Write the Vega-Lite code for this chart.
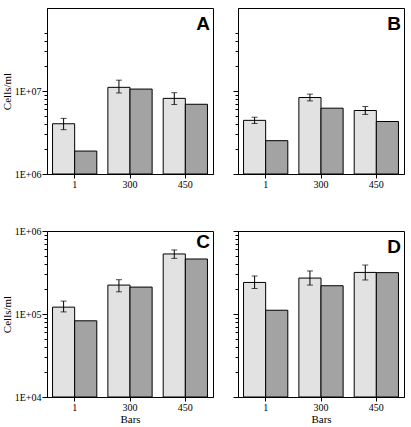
{
  "$schema": "https://vega.github.io/schema/vega-lite/v6.json",
  "padding": {"left": 0, "top": 7, "right": 5, "bottom": 5},
  "background": "white",
  "data": {"values": [
    {"panel": "A", "bars": "1", "type": "dotted", "value": 4030000, "lo": 3420000, "hi": 4680000},
    {"panel": "A", "bars": "1", "type": "solid", "value": 1890000},
    {"panel": "A", "bars": "300", "type": "dotted", "value": 11070000, "lo": 9470000, "hi": 13500000},
    {"panel": "A", "bars": "300", "type": "solid", "value": 10550000},
    {"panel": "A", "bars": "450", "type": "dotted", "value": 8150000, "lo": 6870000, "hi": 9540000},
    {"panel": "A", "bars": "450", "type": "solid", "value": 6920000},
    {"panel": "B", "bars": "1", "type": "dotted", "value": 4430000, "lo": 4060000, "hi": 4830000},
    {"panel": "B", "bars": "1", "type": "solid", "value": 2520000},
    {"panel": "B", "bars": "300", "type": "dotted", "value": 8350000, "lo": 7600000, "hi": 9170000},
    {"panel": "B", "bars": "300", "type": "solid", "value": 6210000},
    {"panel": "B", "bars": "450", "type": "dotted", "value": 5820000, "lo": 5220000, "hi": 6500000},
    {"panel": "B", "bars": "450", "type": "solid", "value": 4290000},
    {"panel": "C", "bars": "1", "type": "dotted", "value": 121000, "lo": 106000, "hi": 143000},
    {"panel": "C", "bars": "1", "type": "solid", "value": 82800},
    {"panel": "C", "bars": "300", "type": "dotted", "value": 223000, "lo": 185000, "hi": 259000},
    {"panel": "C", "bars": "300", "type": "solid", "value": 211000},
    {"panel": "C", "bars": "450", "type": "dotted", "value": 529000, "lo": 468000, "hi": 591000},
    {"panel": "C", "bars": "450", "type": "solid", "value": 460000},
    {"panel": "D", "bars": "1", "type": "dotted", "value": 240000, "lo": 203000, "hi": 287000},
    {"panel": "D", "bars": "1", "type": "solid", "value": 111000},
    {"panel": "D", "bars": "300", "type": "dotted", "value": 271000, "lo": 223000, "hi": 330000},
    {"panel": "D", "bars": "300", "type": "solid", "value": 219000},
    {"panel": "D", "bars": "450", "type": "dotted", "value": 317000, "lo": 257000, "hi": 389000},
    {"panel": "D", "bars": "450", "type": "solid", "value": 315000}
  ]},
  "spacing": 35,
  "vconcat": [
    {
      "spacing": 18,
      "hconcat": [
        {
          "width": 166, "height": 166,
          "title": {"text": "A", "frame": "group", "anchor": "end", "orient": "top", "offset": -26, "dx": -3},
          "transform": [{"filter": "datum.panel === 'A'"}],
          "encoding": {
            "x": {"field": "bars", "type": "nominal", "sort": ["1", "300", "450"], "scale": {"paddingInner": 0.2, "paddingOuter": 0.1}, "axis": {"title": null, "labelAngle": 0, "tickSize": 4, "labelPadding": 1}},
            "xOffset": {"field": "type", "type": "nominal", "scale": {"paddingInner": 0, "paddingOuter": 0}}
          },
          "layer": [
            {"mark": {"type": "bar", "stroke": "black", "strokeWidth": 1}, "encoding": {
              "y": {"field": "value", "type": "quantitative", "stack": null, "title": "Cells/ml", "scale": {"type": "log", "domain": [1000000, 50000000]}, "axis": {"values": [1000000, 2000000, 3000000, 4000000, 5000000, 6000000, 7000000, 8000000, 9000000, 10000000, 20000000, 30000000, 40000000, 50000000], "labelExpr": "abs(log(datum.value)/LN10 - round(log(datum.value)/LN10)) < 0.001 ? '1E+0' + round(log(datum.value)/LN10) : ''", "tickSize": {"condition": {"test": "abs(log(datum.value)/LN10 - round(log(datum.value)/LN10)) < 0.001", "value": 5}, "value": 3}, "labelOverlap": false}},
              "y2": {"datum": 1000000},
              "fill": {"field": "type", "type": "nominal", "scale": {"domain": ["dotted", "solid"], "range": ["#e2e2e2", "#a3a3a3"]}, "legend": null}}},
            {"transform": [{"filter": "isValid(datum.lo)"}], "mark": {"type": "rule", "color": "black", "strokeWidth": 1}, "encoding": {"y": {"field": "lo", "type": "quantitative", "title": "Cells/ml"}, "y2": {"field": "hi"}}},
            {"transform": [{"filter": "isValid(datum.lo)"}], "mark": {"type": "tick", "color": "black", "size": 6, "thickness": 1}, "encoding": {"y": {"field": "lo", "type": "quantitative", "title": "Cells/ml"}}},
            {"transform": [{"filter": "isValid(datum.hi)"}], "mark": {"type": "tick", "color": "black", "size": 6, "thickness": 1}, "encoding": {"y": {"field": "hi", "type": "quantitative", "title": "Cells/ml"}}}
          ]
        },
        {
          "width": 166, "height": 166,
          "title": {"text": "B", "frame": "group", "anchor": "end", "orient": "top", "offset": -26, "dx": -3},
          "transform": [{"filter": "datum.panel === 'B'"}],
          "encoding": {
            "x": {"field": "bars", "type": "nominal", "sort": ["1", "300", "450"], "scale": {"paddingInner": 0.2, "paddingOuter": 0.1}, "axis": {"title": null, "labelAngle": 0, "tickSize": 4, "labelPadding": 1}},
            "xOffset": {"field": "type", "type": "nominal", "scale": {"paddingInner": 0, "paddingOuter": 0}}
          },
          "layer": [
            {"mark": {"type": "bar", "stroke": "black", "strokeWidth": 1}, "encoding": {
              "y": {"field": "value", "type": "quantitative", "stack": null, "title": null, "scale": {"type": "log", "domain": [1000000, 50000000]}, "axis": {"values": [1000000, 2000000, 3000000, 4000000, 5000000, 6000000, 7000000, 8000000, 9000000, 10000000, 20000000, 30000000, 40000000, 50000000], "labels": false, "tickSize": {"condition": {"test": "abs(log(datum.value)/LN10 - round(log(datum.value)/LN10)) < 0.001", "value": 5}, "value": 3}}},
              "y2": {"datum": 1000000},
              "fill": {"field": "type", "type": "nominal", "scale": {"domain": ["dotted", "solid"], "range": ["#e2e2e2", "#a3a3a3"]}, "legend": null}}},
            {"transform": [{"filter": "isValid(datum.lo)"}], "mark": {"type": "rule", "color": "black", "strokeWidth": 1}, "encoding": {"y": {"field": "lo", "type": "quantitative", "title": null}, "y2": {"field": "hi"}}},
            {"transform": [{"filter": "isValid(datum.lo)"}], "mark": {"type": "tick", "color": "black", "size": 6, "thickness": 1}, "encoding": {"y": {"field": "lo", "type": "quantitative", "title": null}}},
            {"transform": [{"filter": "isValid(datum.hi)"}], "mark": {"type": "tick", "color": "black", "size": 6, "thickness": 1}, "encoding": {"y": {"field": "hi", "type": "quantitative", "title": null}}}
          ]
        }
      ]
    },
    {
      "spacing": 18,
      "hconcat": [
        {
          "width": 166, "height": 166,
          "title": {"text": "C", "frame": "group", "anchor": "end", "orient": "top", "offset": -26, "dx": -3},
          "transform": [{"filter": "datum.panel === 'C'"}],
          "encoding": {
            "x": {"field": "bars", "type": "nominal", "sort": ["1", "300", "450"], "scale": {"paddingInner": 0.2, "paddingOuter": 0.1}, "axis": {"title": "Bars", "labelAngle": 0, "tickSize": 4, "labelPadding": 1, "titlePadding": 1}},
            "xOffset": {"field": "type", "type": "nominal", "scale": {"paddingInner": 0, "paddingOuter": 0}}
          },
          "layer": [
            {"mark": {"type": "bar", "stroke": "black", "strokeWidth": 1}, "encoding": {
              "y": {"field": "value", "type": "quantitative", "stack": null, "title": "Cells/ml", "scale": {"type": "log", "domain": [10000, 1000000]}, "axis": {"values": [10000, 20000, 30000, 40000, 50000, 60000, 70000, 80000, 90000, 100000, 200000, 300000, 400000, 500000, 600000, 700000, 800000, 900000, 1000000], "labelExpr": "abs(log(datum.value)/LN10 - round(log(datum.value)/LN10)) < 0.001 ? '1E+0' + round(log(datum.value)/LN10) : ''", "tickSize": {"condition": {"test": "abs(log(datum.value)/LN10 - round(log(datum.value)/LN10)) < 0.001", "value": 5}, "value": 3}, "labelOverlap": false}},
              "y2": {"datum": 10000},
              "fill": {"field": "type", "type": "nominal", "scale": {"domain": ["dotted", "solid"], "range": ["#e2e2e2", "#a3a3a3"]}, "legend": null}}},
            {"transform": [{"filter": "isValid(datum.lo)"}], "mark": {"type": "rule", "color": "black", "strokeWidth": 1}, "encoding": {"y": {"field": "lo", "type": "quantitative", "title": "Cells/ml"}, "y2": {"field": "hi"}}},
            {"transform": [{"filter": "isValid(datum.lo)"}], "mark": {"type": "tick", "color": "black", "size": 6, "thickness": 1}, "encoding": {"y": {"field": "lo", "type": "quantitative", "title": "Cells/ml"}}},
            {"transform": [{"filter": "isValid(datum.hi)"}], "mark": {"type": "tick", "color": "black", "size": 6, "thickness": 1}, "encoding": {"y": {"field": "hi", "type": "quantitative", "title": "Cells/ml"}}}
          ]
        },
        {
          "width": 166, "height": 166,
          "title": {"text": "D", "frame": "group", "anchor": "end", "orient": "top", "offset": -26, "dx": -3},
          "transform": [{"filter": "datum.panel === 'D'"}],
          "encoding": {
            "x": {"field": "bars", "type": "nominal", "sort": ["1", "300", "450"], "scale": {"paddingInner": 0.2, "paddingOuter": 0.1}, "axis": {"title": "Bars", "labelAngle": 0, "tickSize": 4, "labelPadding": 1, "titlePadding": 1}},
            "xOffset": {"field": "type", "type": "nominal", "scale": {"paddingInner": 0, "paddingOuter": 0}}
          },
          "layer": [
            {"mark": {"type": "bar", "stroke": "black", "strokeWidth": 1}, "encoding": {
              "y": {"field": "value", "type": "quantitative", "stack": null, "title": null, "scale": {"type": "log", "domain": [10000, 1000000]}, "axis": {"values": [10000, 20000, 30000, 40000, 50000, 60000, 70000, 80000, 90000, 100000, 200000, 300000, 400000, 500000, 600000, 700000, 800000, 900000, 1000000], "labels": false, "tickSize": {"condition": {"test": "abs(log(datum.value)/LN10 - round(log(datum.value)/LN10)) < 0.001", "value": 5}, "value": 3}}},
              "y2": {"datum": 10000},
              "fill": {"field": "type", "type": "nominal", "scale": {"domain": ["dotted", "solid"], "range": ["#e2e2e2", "#a3a3a3"]}, "legend": null}}},
            {"transform": [{"filter": "isValid(datum.lo)"}], "mark": {"type": "rule", "color": "black", "strokeWidth": 1}, "encoding": {"y": {"field": "lo", "type": "quantitative", "title": null}, "y2": {"field": "hi"}}},
            {"transform": [{"filter": "isValid(datum.lo)"}], "mark": {"type": "tick", "color": "black", "size": 6, "thickness": 1}, "encoding": {"y": {"field": "lo", "type": "quantitative", "title": null}}},
            {"transform": [{"filter": "isValid(datum.hi)"}], "mark": {"type": "tick", "color": "black", "size": 6, "thickness": 1}, "encoding": {"y": {"field": "hi", "type": "quantitative", "title": null}}}
          ]
        }
      ]
    }
  ],
  "config": {
    "view": {"stroke": "black", "strokeWidth": 1},
    "title": {"font": "Liberation Sans", "fontSize": 19, "fontWeight": "bold", "color": "black", "baseline": "top"},
    "axis": {"grid": false, "labelFont": "Liberation Serif, Times New Roman, serif", "titleFont": "Liberation Serif, Times New Roman, serif", "labelFontSize": 10, "titleFontSize": 11, "titleFontWeight": "normal", "domainColor": "black", "tickColor": "black", "labelColor": "black", "titleColor": "black", "labelPadding": 1, "titlePadding": 2}
  }
}
